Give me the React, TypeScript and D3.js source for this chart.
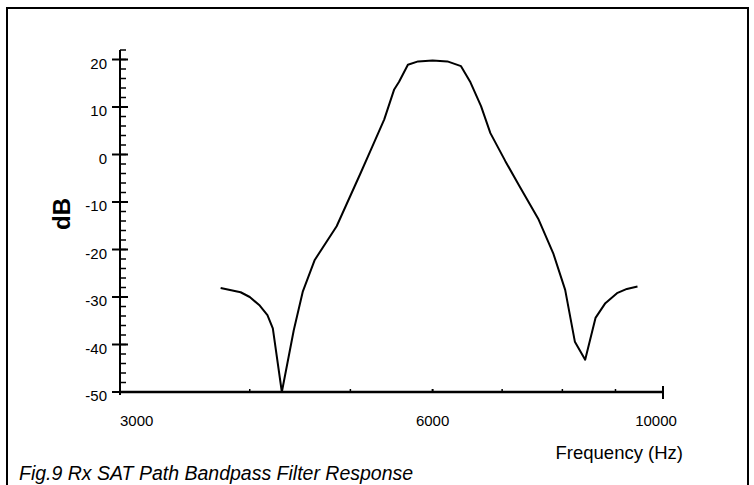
import React from "react";
import * as d3 from "d3";

// Frequency (Hz) and response (dB)
const freqHz = [3750, 3920, 4000, 4090, 4160, 4210, 4295, 4410, 4500, 4620, 4850, 5115, 5250, 5390, 5510, 5570, 5680, 5810, 6000, 6200, 6390, 6525, 6680, 6820, 7050, 7275, 7590, 7840, 8050, 8225, 8415, 8610, 8800, 9030, 9230, 9450];
const responseDb = [-28.1, -29.0, -30.0, -31.8, -33.8, -36.6, -50, -37.0, -28.8, -22.2, -15.1, -3.9, 1.7, 7.4, 13.7, 15.3, 18.9, 19.6, 19.8, 19.6, 18.6, 15.2, 10.2, 4.5, -1.4, -6.7, -13.7, -20.8, -28.5, -39.4, -43.2, -34.4, -31.3, -29.2, -28.3, -27.8];

const xMajorTicks = [3000, 6000, 10000];
const xMinorTicks = [4000, 5000, 7000, 8000, 9000];
const yMajorTicks = [20, 10, 0, -10, -20, -30, -40, -50];
const xDomain = [3000, 10000];
const yDomain = [-50, 22];

const title = "Fig.9 Rx SAT Path Bandpass Filter Response";
const xTitle = "Frequency  (Hz)";
const yTitle = "dB";

export default function App() {
  const W = 754, H = 485;
  const x = d3.scaleLog().domain(xDomain).range([120, 663]);
  const y = d3.scaleLinear().domain(yDomain).range([392, 50]);
  const minorY = d3.range(yDomain[0], yDomain[1] + 0.001, 2);
  const pts = freqHz.map((f, i) => [f, responseDb[i]] as [number, number]);
  const line = d3.line<[number, number]>().x((d) => x(d[0])).y((d) => y(d[1])).curve(d3.curveLinear);
  const font = "'Liberation Sans', Arial, Helvetica, sans-serif";
  const x0 = x.range()[0], x1 = x.range()[1];
  const yb = y.range()[0], yt = y.range()[1];

  return (
    <svg width={W} height={H} style={{ position: "absolute", left: 0, top: 0, background: "#fff" }} fontFamily={font}>
      <rect x={7} y={8} width={741} height={495} fill="none" stroke="#000" strokeWidth={2} />
      {/* y axis */}
      <line x1={x0} x2={x0} y1={yt} y2={yb + 3} stroke="#000" strokeWidth={2} />
      {minorY.map((v) => (
        <line key={"ym" + v} x1={x0} x2={x0 + 6} y1={y(v)} y2={y(v)} stroke="#000" strokeWidth={1.5} />
      ))}
      {yMajorTicks.map((v) => (
        <g key={"y" + v}>
          <line x1={x0 - 8} x2={x0 + 8} y1={y(v)} y2={y(v)} stroke="#000" strokeWidth={2} />
          <text x={x0 - 13} y={y(v) + 4} dy="0.35em" textAnchor="end" fontSize={15} fill="#000">{v}</text>
        </g>
      ))}
      <text transform={`translate(${x0 - 58},${y(-10) + 12}) rotate(-90)`} textAnchor="middle" dy="0.35em" fontSize={24} fontWeight="bold" fill="#000">{yTitle}</text>
      {/* x axis */}
      <line x1={x0} x2={x1} y1={yb} y2={yb} stroke="#000" strokeWidth={2.5} />
      {xMinorTicks.map((v) => (
        <line key={"xm" + v} x1={x(v)} x2={x(v)} y1={yb} y2={yb - 3} stroke="#000" strokeWidth={1.5} />
      ))}
      {xMajorTicks.map((v, i) => (
        <g key={"x" + v}>
          <line x1={x(v)} x2={x(v)} y1={i === xMajorTicks.length - 1 ? yb - 6 : yb - 3} y2={i === xMajorTicks.length - 1 ? yb + 7 : yb} stroke="#000" strokeWidth={2} />
          <text x={x(v)} dx={i === 0 ? 0 : i === xMajorTicks.length - 1 ? -7 : 0} y={yb + 34} textAnchor={i === 0 ? "start" : "middle"} fontSize={15} fill="#000">{v}</text>
        </g>
      ))}
      <text x={x1 + 20} y={yb + 67} textAnchor="end" fontSize={18.5} fill="#000">{xTitle}</text>
      {/* curve */}
      <path d={line(pts) || ""} fill="none" stroke="#000" strokeWidth={2} strokeLinejoin="round" />
      <text x={19} y={480} fontSize={19.5} fontStyle="italic" fill="#000">{title}</text>
    </svg>
  );
}
